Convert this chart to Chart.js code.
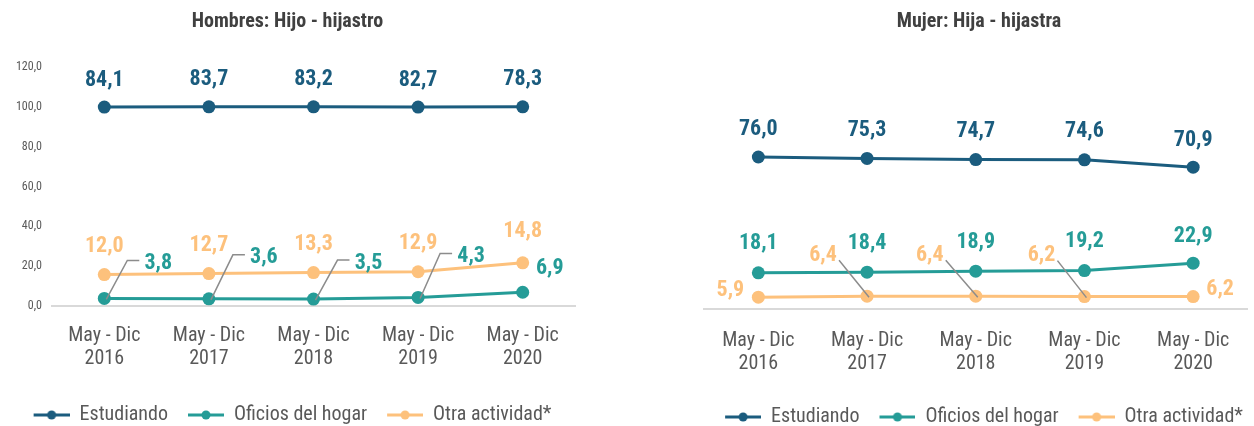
<!DOCTYPE html>
<html>
<head>
<meta charset="utf-8">
<script src="https://cdn.jsdelivr.net/npm/chart.js@4/dist/chart.umd.min.js"></script>
<style>
    html, body { margin: 0; padding: 0; background: #ffffff; }
    .fila { display: flex; width: 1254px; height: 426px; }
    .caja { position: relative; width: 627px; height: 426px; }
</style>
</head>
<body>
<div class="fila">
    <div class="caja"><canvas id="hombresChart"></canvas></div>
    <div class="caja"><canvas id="mujerChart"></canvas></div>
</div>
<script>
// Datos
const categorias = [
    ['May - Dic', '2016'],
    ['May - Dic', '2017'],
    ['May - Dic', '2018'],
    ['May - Dic', '2019'],
    ['May - Dic', '2020']
];
const series = ['Estudiando', 'Oficios del hogar', 'Otra actividad*'];

const hombresEstudiando = [84.1, 83.7, 83.2, 82.7, 78.3];
const hombresOficios = [3.8, 3.6, 3.5, 4.3, 6.9];
const hombresOtra = [12.0, 12.7, 13.3, 12.9, 14.8];

const mujerEstudiando = [76.0, 75.3, 74.7, 74.6, 70.9];
const mujerOficios = [18.1, 18.4, 18.9, 19.2, 22.9];
const mujerOtra = [5.9, 6.4, 6.4, 6.2, 6.2];

const colors = {
    estudiando: '#1b5c7e',
    oficios: '#259c97',
    otra: '#fdc17c',
    texto: '#404040',
    ejes: '#595959',
    linea: '#d9d9d9',
    guia: '#8c8c8c'
};

const FUENTE = "'Roboto Condensed', Roboto, sans-serif";
Chart.defaults.font.family = FUENTE;

function formato(v) {
    return v.toFixed(1).replace('.', ',');
}

// icono de leyenda: linea con punto (con margen a la izquierda)
function iconoLeyenda(color) {
    const c = document.createElement('canvas');
    c.width = 46;
    c.height = 12;
    const g = c.getContext('2d');
    g.strokeStyle = color;
    g.lineWidth = 3;
    g.beginPath();
    g.moveTo(10, 6);
    g.lineTo(46, 6);
    g.stroke();
    g.fillStyle = color;
    g.beginPath();
    g.arc(28, 6, 4.5, 0, Math.PI * 2);
    g.fill();
    return c;
}

// etiquetas de datos
const etiquetasPlugin = {
    id: 'etiquetas',
    afterDatasetsDraw(chart) {
        const ctx = chart.ctx;
        ctx.save();
        ctx.textAlign = 'center';
        ctx.textBaseline = 'middle';
        ctx.font = 'bold 22px ' + FUENTE;
        chart.data.datasets.forEach((ds, i) => {
            const e = ds.etiqueta;
            if (!e) return;
            const meta = chart.getDatasetMeta(i);
            meta.data.forEach((pt, j) => {
                const lx = pt.x + e.dx[j];
                const ly = pt.y + e.dy[j];
                const guia = e.guia ? e.guia[j] : null;
                if (guia) {
                    ctx.strokeStyle = colors.guia;
                    ctx.lineWidth = 1.5;
                    ctx.beginPath();
                    if (guia === 'codo') {
                        ctx.moveTo(pt.x + 2, pt.y + 1);
                        ctx.lineTo(lx - 31, ly - 3);
                        ctx.lineTo(lx - 19, ly - 3);
                    } else {
                        ctx.moveTo(lx + 16, ly + 5);
                        ctx.lineTo(pt.x + 2, pt.y + 1);
                    }
                    ctx.stroke();
                }
                ctx.fillStyle = ds.borderColor;
                ctx.fillText(formato(ds.data[j]), lx, ly);
            });
        });
        ctx.restore();
    }
};

function serie(label, data, color, orden, etiqueta) {
    return {
        label: label,
        data: data,
        borderColor: color,
        backgroundColor: color,
        pointBackgroundColor: color,
        pointBorderWidth: 0,
        pointRadius: 6.5,
        borderWidth: 3,
        fill: false,
        tension: 0,
        clip: false,
        order: orden,
        etiqueta: etiqueta
    };
}

function opcionesLeyenda() {
    return {
        position: 'bottom',
        labels: {
            usePointStyle: true,
            pointStyleWidth: 46,
            color: colors.ejes,
            padding: 10,
            font: { size: 20 },
            sort: (a, b) => a.datasetIndex - b.datasetIndex,
            generateLabels: function(chart) {
                const items = Chart.defaults.plugins.legend.labels.generateLabels(chart);
                return items.map(item => {
                    item.pointStyle = iconoLeyenda(chart.data.datasets[item.datasetIndex].borderColor);
                    return item;
                });
            }
        }
    };
}

function renderHombresChart() {
    const ctx = document.getElementById('hombresChart');
    if (!ctx) return;

    new Chart(ctx.getContext('2d'), {
        type: 'line',
        data: {
            labels: categorias,
            datasets: [
                serie(series[0], hombresEstudiando, colors.estudiando, 3, {
                    dx: [0, 0, 0, 0, 0],
                    dy: [-27, -27, -27, -27, -27]
                }),
                serie(series[1], hombresOficios, colors.oficios, 1, {
                    dx: [54, 55, 55, 53, 27],
                    dy: [-35, -41, -36, -41, -24],
                    guia: ['codo', 'codo', 'codo', 'codo', null]
                }),
                serie(series[2], hombresOtra, colors.otra, 2, {
                    dx: [0, 0, 0, 0, 0],
                    dy: [-28, -28, -28, -28, -31]
                })
            ]
        },
        options: {
            responsive: true,
            maintainAspectRatio: false,
            animation: false,
            layout: { padding: { left: 0, right: 52, top: 0, bottom: -9 } },
            plugins: {
                title: {
                    display: true,
                    text: 'Hombres: Hijo - hijastro',
                    color: colors.texto,
                    font: { size: 20, weight: 'bold', lineHeight: 1.2 },
                    padding: { top: 10, bottom: 33 }
                },
                legend: opcionesLeyenda(),
                tooltip: { enabled: false }
            },
            scales: {
                x: {
                    offset: true,
                    grid: { display: false, drawTicks: false },
                    border: { display: true, color: colors.linea, width: 2 },
                    ticks: {
                        color: colors.ejes,
                        font: { size: 20, lineHeight: 1.15 },
                        padding: 18,
                        maxRotation: 0,
                        autoSkip: false
                    },
                    afterFit: function(scale) { scale.height = 89; }
                },
                y: {
                    stacked: true,
                    min: 0,
                    max: 120,
                    grid: { display: false, drawTicks: false },
                    border: { display: false },
                    ticks: {
                        stepSize: 20,
                        color: colors.ejes,
                        font: { size: 12 },
                        padding: 10,
                        callback: function(value) { return formato(value); }
                    },
                    afterFit: function(scale) { scale.width = 52; }
                }
            }
        },
        plugins: [etiquetasPlugin]
    });
}

function renderMujerChart() {
    const ctx = document.getElementById('mujerChart');
    if (!ctx) return;

    new Chart(ctx.getContext('2d'), {
        type: 'line',
        data: {
            labels: categorias,
            datasets: [
                serie(series[0], mujerEstudiando, colors.estudiando, 1, {
                    dx: [0, 0, 0, 0, 0],
                    dy: [-28, -28, -28, -28, -27]
                }),
                serie(series[1], mujerOficios, colors.oficios, 2, {
                    dx: [0, 0, 0, 0, 0],
                    dy: [-29, -29, -29, -29, -27]
                }),
                serie(series[2], mujerOtra, colors.otra, 3, {
                    dx: [-28, -44, -46, -43, 27],
                    dy: [-7, -41, -41, -41, -7],
                    guia: [null, 'recta', 'recta', 'recta', null]
                })
            ]
        },
        options: {
            responsive: true,
            maintainAspectRatio: false,
            animation: false,
            layout: { padding: { left: 77, right: 0, top: 0, bottom: -11 } },
            plugins: {
                title: {
                    display: true,
                    text: 'Mujer: Hija - hijastra',
                    color: colors.texto,
                    font: { size: 20, weight: 'bold', lineHeight: 1.2 },
                    padding: { top: 10, bottom: 35 }
                },
                legend: opcionesLeyenda(),
                tooltip: { enabled: false }
            },
            scales: {
                x: {
                    offset: true,
                    grid: { display: false, drawTicks: false },
                    border: { display: true, color: colors.linea, width: 2 },
                    ticks: {
                        color: colors.ejes,
                        font: { size: 20, lineHeight: 1.15 },
                        padding: 20,
                        maxRotation: 0,
                        autoSkip: false
                    },
                    afterFit: function(scale) { scale.height = 88; }
                },
                y: {
                    display: false,
                    min: 0,
                    max: 120
                }
            }
        },
        plugins: [etiquetasPlugin]
    });
}

document.addEventListener('DOMContentLoaded', function() {
    try {
        renderHombresChart();
    } catch (error) {
        console.error('Error renderizando grafico de hombres:', error);
    }
    try {
        renderMujerChart();
    } catch (error) {
        console.error('Error renderizando grafico de mujer:', error);
    }
});
</script>
</body>
</html>
